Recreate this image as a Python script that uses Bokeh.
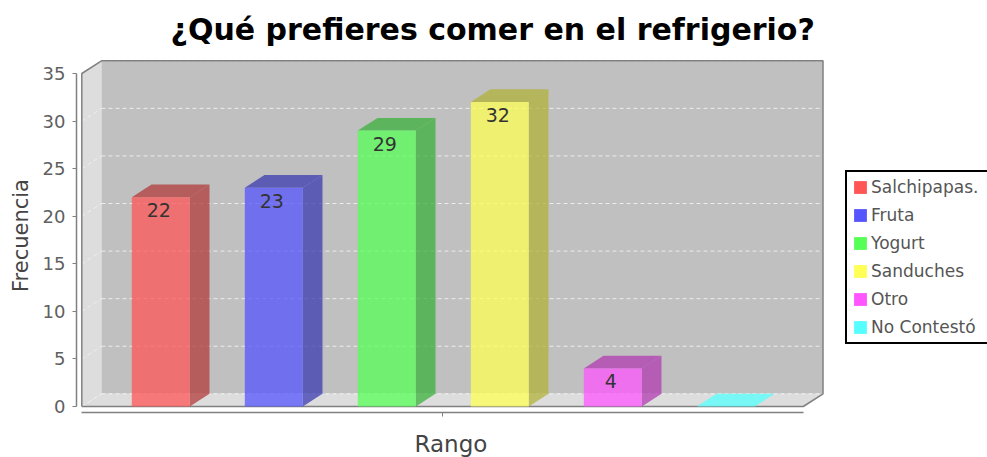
from bokeh.plotting import figure
from bokeh.models import Range1d, Legend, LegendItem, FixedTicker, Title
from bokeh.embed import file_html
from bokeh.resources import INLINE

title_text = "¿Qué prefieres comer en el refrigerio?"
x_title = "Rango"
y_title = "Frecuencia"
categories = ["Salchipapas.", "Fruta", "Yogurt", "Sanduches", "Otro", "No Contestó"]
values = [22, 23, 29, 32, 4, 0]
colors = ["#FF5555", "#5555FF", "#55FF55", "#FFFF55", "#FF55FF", "#55FFFF"]
dark = ["#B23B3B", "#3B3BB2", "#3BB23B", "#B2B23B", "#B23BB2", "#3BB2B2"]
y_ticks = [0, 5, 10, 15, 20, 25, 30, 35]

FONT = "DejaVu Sans"
PX_X = 113.0          # pixels per category
PX_Y = 333.0 / 35.0   # pixels per value unit
DX = 19.7 / PX_X      # 3D depth in data units
DY = 12.7 / PX_Y
BAR_W = 58.0 / PX_X
ALPHA = 0.75

FR_L, FR_R, FR_T, FR_B = 76, 987, 58, 412   # frame, page pixels
X0 = 161.0            # page px of first category
Y0 = 406.0            # page px of value 0
SHIFT = 0.7
x_lo = (FR_L + SHIFT - X0) / PX_X
x_hi = (FR_R + SHIFT - X0) / PX_X
y_lo = (Y0 - FR_B) / PX_Y
y_hi = (Y0 - FR_T) / PX_Y
plot_l = (82 - X0) / PX_X
plot_r = (803.5 - X0) / PX_X

p = figure(width=987, height=457, output_backend="svg", toolbar_location=None,
           x_range=Range1d(x_lo, x_hi), y_range=Range1d(y_lo, y_hi),
           frame_width=FR_R - FR_L, frame_height=FR_B - FR_T,
           min_border_left=FR_L, min_border_right=0,
           min_border_top=FR_T, min_border_bottom=457 - FR_B,
           background_fill_color="white", border_fill_color="white",
           outline_line_color=None)
p.grid.visible = False

top = y_ticks[-1]
# walls
p.patch([plot_l, plot_l + DX, plot_l + DX, plot_l], [0, DY, top + DY, top],
        fill_color="#DDDDDD", line_color=None)
p.patch([plot_l, plot_r, plot_r + DX, plot_l + DX], [0, 0, DY, DY],
        fill_color="#DDDDDD", line_color=None)
p.quad(left=[plot_l + DX], right=[plot_r + DX], bottom=[DY], top=[top + DY],
       fill_color="#C0C0C0", line_color=None)

# gridlines
p.segment(x0=[plot_l + DX] * len(y_ticks), x1=[plot_r + DX] * len(y_ticks),
          y0=[v + DY for v in y_ticks], y1=[v + DY for v in y_ticks],
          line_color="#FFFFFF", line_width=1, line_dash="4 3", line_alpha=0.7)
p.segment(x0=[plot_l] * len(y_ticks), x1=[plot_l + DX] * len(y_ticks),
          y0=y_ticks, y1=[v + DY for v in y_ticks],
          line_color="#FFFFFF", line_width=1, line_dash="4 3", line_alpha=0.5)

# outline
p.line([plot_l, plot_l, plot_l + DX, plot_r + DX, plot_r + DX, plot_r, plot_l],
       [0, top, top + DY, top + DY, DY, 0, 0],
       line_color="#808080", line_width=1.5)

# bars
for i, v in enumerate(values):
    l, r = i - BAR_W / 2, i + BAR_W / 2
    if v > 0:
        p.patch([r, r + DX, r + DX, r], [0, DY, v + DY, v],
                fill_color=dark[i], fill_alpha=ALPHA, line_color=None)
    p.patch([l, l + DX, r + DX, r], [v, v + DY, v + DY, v],
            fill_color=dark[i] if v > 0 else colors[i], fill_alpha=ALPHA, line_color=None)
    if v > 0:
        p.quad(left=[l], right=[r], bottom=[0], top=[v],
               fill_color=colors[i], fill_alpha=ALPHA, line_color=None)

# value labels
shown = [(i, v) for i, v in enumerate(values) if v > 0]
p.text(x=[i for i, v in shown], y=[v for i, v in shown], text=[str(v) for i, v in shown],
       text_align="center", text_baseline="middle", x_offset=-2, y_offset=13,
       text_font={"value": FONT}, text_font_size={"value": "19px"}, text_color="#333333")

# axes
xa = p.xaxis[0]
xa.bounds = (plot_l, plot_r)
mid = (plot_l + plot_r) / 2
xa.ticker = FixedTicker(ticks=[mid])
xa.major_label_overrides = {mid: ""}
xa.major_tick_out = 4
xa.major_tick_in = 0
xa.minor_tick_line_color = None
xa.axis_line_color = "#808080"
xa.axis_line_width = 1.5
xa.major_tick_line_color = "#808080"

ya = p.yaxis[0]
ya.axis_label = y_title
ya.axis_label_text_font = FONT
ya.axis_label_text_font_size = "21px"
ya.axis_label_text_font_style = "normal"
ya.axis_label_text_color = "#444444"
ya.axis_label_standoff = 7
ya.bounds = (y_ticks[0], y_ticks[-1])
ya.ticker = FixedTicker(ticks=y_ticks)
ya.major_label_text_font = FONT
ya.major_label_text_font_size = "18px"
ya.major_label_text_color = "#606060"
ya.major_tick_out = 4
ya.major_tick_in = 0
ya.major_label_standoff = 7
ya.minor_tick_line_color = None
ya.axis_line_color = "#808080"
ya.axis_line_width = 1.5
ya.major_tick_line_color = "#808080"

# titles
p.add_layout(Title(text=title_text, align="left", vertical_align="top", offset=94, standoff=20,
                   text_font=FONT, text_font_size="30px", text_font_style="bold",
                   text_color="#000000"), "above")
p.add_layout(Title(text=x_title, align="left", offset=414 - FR_L, standoff=25,
                   text_font=FONT, text_font_size="23px", text_font_style="normal",
                   text_color="#444444"), "below")

# legend
nan = float("nan")
items = []
for c, name in zip(colors, categories):
    r = p.quad(left=[nan], right=[nan], bottom=[nan], top=[nan], fill_color=c, line_color=None)
    items.append(LegendItem(label=name, renderers=[r]))
legend = Legend(items=items, location=(845 - FR_L, FR_B - 344), orientation="vertical",
                background_fill_color="white", background_fill_alpha=1,
                border_line_color="#000000", border_line_alpha=1, border_line_width=2,
                label_text_font=FONT, label_text_font_size="17px", label_text_color="#555555",
                glyph_width=16, glyph_height=16, label_standoff=3, label_height=20, label_width=125,
                spacing=8, padding=5, margin=0)
p.add_layout(legend, "center")

open("out.html", "w").write(file_html(p, INLINE))
